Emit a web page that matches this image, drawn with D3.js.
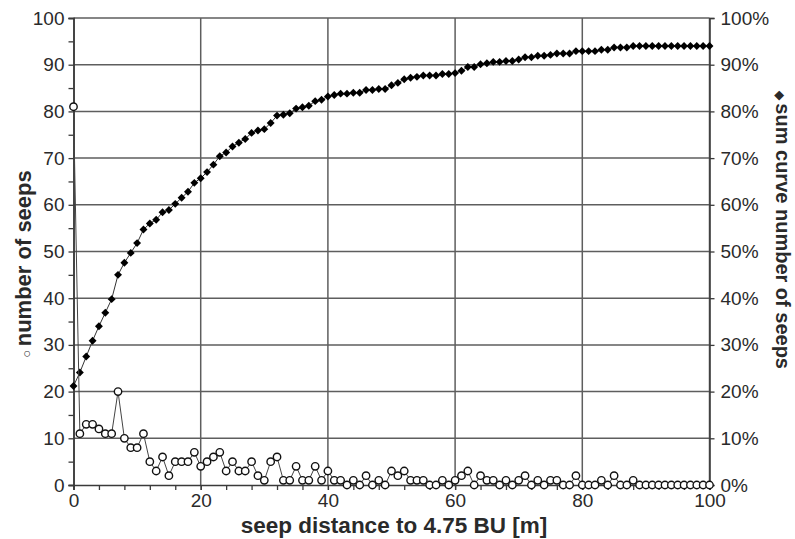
<!DOCTYPE html>
<html>
<head>
<meta charset="utf-8">
<script src="https://cdn.jsdelivr.net/npm/d3@7"></script>
<style>
  body { margin: 0; background: #fff; }
  svg text { font-family: "Liberation Sans", Arial, sans-serif; }
</style>
</head>
<body>
<svg id="chart" width="795" height="539"></svg>
<script>
// seep distance to 4.75 BU [m], one step per metre
var distance = d3.range(0, 101)

// number of seeps at each distance
var seeps = [81, 11, 13, 13, 12, 11, 11, 20, 10, 8,
  8, 11, 5, 3, 6, 2, 5, 5, 5, 7,
  4, 5, 6, 7, 3, 5, 3, 3, 5, 2,
  1, 5, 6, 1, 1, 4, 1, 1, 4, 1,
  3, 1, 1, 0, 1, 0, 2, 0, 1, 0,
  3, 2, 3, 1, 1, 1, 0, 0, 1, 0,
  1, 2, 3, 0, 2, 1, 1, 0, 1, 0,
  1, 2, 0, 1, 0, 1, 1, 0, 0, 2,
  0, 0, 0, 1, 0, 2, 0, 0, 1, 0,
  0, 0, 0, 0, 0, 0, 0, 0, 0, 0, 0]

// sum curve, percent of all seeps
var sumCurve = [21.2, 24.1, 27.5, 30.9, 34.0, 36.9, 39.8, 45.0, 47.6, 49.7,
  51.8, 54.7, 56.0, 56.8, 58.4, 58.9, 60.2, 61.5, 62.8, 64.7,
  65.7, 67.0, 68.6, 70.4, 71.2, 72.5, 73.3, 74.1, 75.4, 75.9,
  76.2, 77.5, 79.1, 79.3, 79.6, 80.6, 80.9, 81.2, 82.2, 82.5,
  83.2, 83.5, 83.8, 83.8, 84.0, 84.0, 84.6, 84.6, 84.8, 84.8,
  85.6, 86.1, 86.9, 87.2, 87.4, 87.7, 87.7, 87.7, 88.0, 88.0,
  88.2, 88.7, 89.5, 89.5, 90.1, 90.3, 90.6, 90.6, 90.8, 90.8,
  91.1, 91.6, 91.6, 91.9, 91.9, 92.1, 92.4, 92.4, 92.4, 92.9,
  92.9, 92.9, 92.9, 93.2, 93.2, 93.7, 93.7, 93.7, 94.0, 94.0,
  94.0, 94.0, 94.0, 94.0, 94.0, 94.0, 94.0, 94.0, 94.0, 94.0, 94.0]

var xTicks = [0, 20, 40, 60, 80, 100]
var yTicks = d3.range(0, 101, 10)
var pctTicks = d3.range(0, 1.01, 0.1)

var plotL = 73.5, plotR = 709.5, plotT = 18, plotB = 485
var gridCol = "#5e5e5e", textCol = "#2a2a2a"

var svg = d3.select("#chart")

var x = d3.scaleLinear().domain([0, 100]).range([plotL, plotR])
var y = d3.scaleLinear().domain([0, 100]).range([plotB, plotT])
var yPct = d3.scaleLinear().domain([0, 1]).range([plotB, plotT])

// grid
var grid = svg.append("g")
grid.selectAll(".hg")
  .data(yTicks.filter(function(d) { return d > 0 }))
  .enter().append("line")
  .attr("x1", plotL).attr("x2", plotR)
  .attr("y1", function(d) { return y(d) }).attr("y2", function(d) { return y(d) })
  .attr("stroke", gridCol).attr("stroke-width", 1.5)
grid.selectAll(".vg")
  .data(xTicks.filter(function(d) { return d > 0 }))
  .enter().append("line")
  .attr("x1", function(d) { return x(d) }).attr("x2", function(d) { return x(d) })
  .attr("y1", plotT).attr("y2", plotB)
  .attr("stroke", gridCol).attr("stroke-width", 1.5)

// axes
function styleAxis(g) {
  g.selectAll(".domain").attr("stroke", "#3a3a3a").attr("stroke-width", 1.5)
  g.selectAll(".tick line").attr("stroke", "#3a3a3a").attr("stroke-width", 1.3)
  g.selectAll("text").attr("fill", textCol).attr("font-size", 19)
    .attr("font-family", "'Liberation Sans', Arial, sans-serif")
}

svg.append("g")
  .attr("transform", "translate(0," + plotB + ")")
  .call(d3.axisBottom(x).tickValues(d3.range(0, 101, 4)).tickSize(5).tickFormat(""))
  .call(styleAxis)
svg.append("g")
  .attr("transform", "translate(0," + plotB + ")")
  .call(d3.axisBottom(x).tickValues(xTicks).tickSize(5).tickPadding(4))
  .call(styleAxis)
  .call(function(g) { g.select(".domain").remove() })

svg.append("g")
  .attr("transform", "translate(" + plotL + ",0)")
  .call(d3.axisLeft(y).tickValues(d3.range(5, 100, 10)).tickSize(5).tickFormat(""))
  .call(styleAxis)
svg.append("g")
  .attr("transform", "translate(" + plotL + ",0)")
  .call(d3.axisLeft(y).tickValues(yTicks).tickSize(5).tickPadding(4))
  .call(styleAxis)

svg.append("g")
  .attr("transform", "translate(" + plotR + ",0)")
  .call(d3.axisRight(yPct).tickValues(pctTicks).tickSize(5).tickPadding(6)
    .tickFormat(d3.format(".0%")))
  .call(styleAxis)

// sum curve
var cum = distance.map(function(d, i) { return { x: d, v: sumCurve[i] / 100 } })
svg.append("path")
  .datum(cum)
  .attr("fill", "none").attr("stroke", "#333").attr("stroke-width", 1)
  .attr("d", d3.line().x(function(d) { return x(d.x) }).y(function(d) { return yPct(d.v) }))
svg.append("g").selectAll("path")
  .data(cum)
  .enter().append("path")
  .attr("transform", function(d) { return "translate(" + x(d.x) + "," + yPct(d.v) + ")" })
  .attr("d", d3.symbol().type(d3.symbolDiamond2).size(40))
  .attr("fill", "#000")

// number of seeps
var cnt = distance.map(function(d, i) { return { x: d, v: seeps[i] } })
svg.append("path")
  .datum(cnt)
  .attr("fill", "none").attr("stroke", "#444").attr("stroke-width", 1)
  .attr("d", d3.line().x(function(d) { return x(d.x) }).y(function(d) { return y(d.v) }))
svg.append("g").selectAll("circle")
  .data(cnt)
  .enter().append("circle")
  .attr("cx", function(d) { return x(d.x) })
  .attr("cy", function(d) { return y(d.v) })
  .attr("r", 3.7)
  .attr("fill", "#fff").attr("stroke", "#111").attr("stroke-width", 1.4)

// titles
svg.append("text")
  .attr("x", 394).attr("y", 533)
  .attr("text-anchor", "middle")
  .attr("font-size", 22.5).attr("font-weight", "bold").attr("fill", textCol)
  .text("seep distance to 4.75 BU [m]")

var lt = svg.append("text")
  .attr("transform", "translate(31,264) rotate(-90)")
  .attr("text-anchor", "middle")
  .attr("font-size", 22).attr("font-weight", "bold").attr("fill", textCol)
lt.append("tspan").attr("font-size", 13).attr("font-weight", "normal").text("\u25CB ")
lt.append("tspan").text("number of seeps")

var rt = svg.append("text")
  .attr("transform", "translate(776,230) rotate(90)")
  .attr("text-anchor", "middle")
  .attr("font-size", 20).attr("font-weight", "bold").attr("fill", textCol)
rt.append("tspan").attr("font-size", 12).text("\u25C6 ")
rt.append("tspan").text("sum curve number of seeps")
</script>
</body>
</html>
